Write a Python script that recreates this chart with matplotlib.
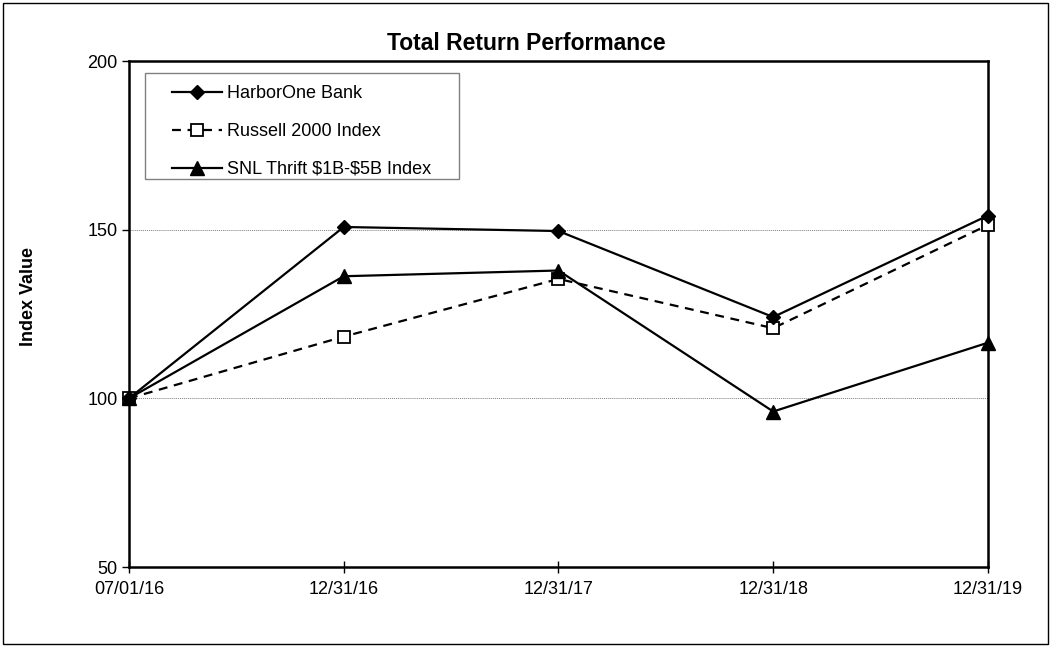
import matplotlib.pyplot as plt
from matplotlib.patches import Rectangle

plt.rcParams['font.family'] = ['Liberation Sans', 'DejaVu Sans']

# data
dates = ['07/01/16', '12/31/16', '12/31/17', '12/31/18', '12/31/19']
harborone = [100.0, 150.8, 149.6, 124.1, 154.2]
russell = [100.0, 118.3, 135.4, 120.8, 151.4]
snl = [100.0, 136.2, 137.9, 96.1, 116.5]

fig = plt.figure(figsize=(10.52, 6.47), dpi=100)
ax = fig.add_axes([0.1226, 0.1236, 0.8165, 0.7821])

x = range(len(dates))
ax.plot(x, harborone, color='black', lw=1.6, marker='D', ms=7,
        label='HarborOne Bank', zorder=4, clip_on=False)
ax.plot(x, russell, color='black', lw=1.6, ls=(0, (4, 3)), marker='s', ms=8.5,
        mfc='white', mec='black', mew=1.3, label='Russell 2000 Index',
        zorder=3, clip_on=False)
ax.plot(x, snl, color='black', lw=1.6, marker='^', ms=9.5,
        label='SNL Thrift \\$1B-\\$5B Index', zorder=4, clip_on=False)

ax.set_xlim(0, len(dates) - 1)
ax.set_ylim(50, 200)
ax.set_yticks([50, 100, 150, 200])
ax.set_xticks(list(x))
ax.set_xticklabels(dates)
ax.tick_params(axis='both', labelsize=13, colors='black', width=1, length=5)
ax.tick_params(axis='x', direction='inout', length=8, pad=6)
ax.tick_params(axis='y', direction='out', length=5, pad=3)

for yv in [100, 150]:
    ax.axhline(yv, color='grey', lw=0.7, ls=(0, (1, 1)), zorder=1)

for s in ax.spines.values():
    s.set_linewidth(1.8)
    s.set_color('black')

fig.text(0.5, 0.9335, 'Total Return Performance', fontsize=16.5,
         fontweight='bold', ha='center', va='center')
ax.set_ylabel('Index Value', fontsize=13, fontweight='bold')
ax.yaxis.set_label_coords(-0.107, 0.534)

# legend without its own frame, grey box drawn separately
leg = ax.legend(loc='upper left', bbox_to_anchor=(0.050, 0.952), fontsize=13,
                handlelength=2.8, labelspacing=1.15, borderpad=0,
                frameon=False, handletextpad=0.25, borderaxespad=0)
ax.add_patch(Rectangle((0.0186, 0.767), 0.3656, 0.209, transform=ax.transAxes,
                       fill=False, edgecolor='grey', lw=1, zorder=5))

fig.add_artist(Rectangle((0.003, 0.005), 0.993, 0.99, transform=fig.transFigure,
                         fill=False, edgecolor='black', lw=1))

fig.savefig('out.png', dpi=100)
